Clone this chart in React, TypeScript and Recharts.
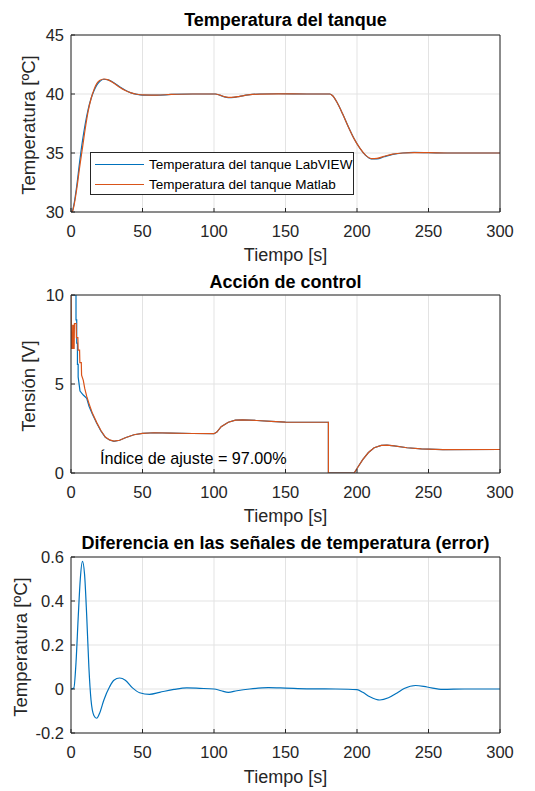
import React from "react";
import { CartesianGrid, Legend, Line, LineChart, XAxis, YAxis } from "recharts";

const FONT = '"Liberation Sans", Arial, Helvetica, sans-serif';
const AXIS = "#262626";
const GRID = "#e3e3e3";
const BLUE = "#0072BD";
const ORANGE = "#D95319";

const timeTicks = [0, 50, 100, 150, 200, 250, 300];
const tempTicks = [30, 35, 40, 45];
const voltTicks = [0, 5, 10];
const errTicks = [-0.2, 0, 0.2, 0.4, 0.6];

// temperatura del tanque
const tempTime = [0, 1, 2, 4, 6, 8, 10, 12, 14, 16, 18, 20, 23, 26, 30, 34, 38, 42, 46, 50, 60, 70, 85, 101, 104, 107, 110, 114, 118, 124, 132, 145, 165, 181, 183, 186, 190, 194, 198, 202, 206, 210, 214, 219, 225, 232, 240, 250, 265, 300];
const tempLabview = [30, 30.1, 30.6, 32.2, 34.2, 36.0, 37.5, 38.7, 39.6, 40.25, 40.75, 41.05, 41.25, 41.2, 40.95, 40.62, 40.32, 40.1, 39.97, 39.9, 39.9, 39.96, 40.0, 40.0, 39.9, 39.77, 39.7, 39.72, 39.8, 39.92, 40.0, 40.02, 40.0, 40.0, 39.85, 39.3, 38.3, 37.2, 36.2, 35.4, 34.8, 34.5, 34.5, 34.68, 34.88, 35.0, 35.05, 35.03, 35.0, 35.0];
const tempMatlab = [30, 30.05, 30.5, 31.95, 33.75, 35.42, 37.1, 38.55, 39.6, 40.35, 40.88, 41.14, 41.27, 41.2, 40.92, 40.57, 40.29, 40.1, 39.98, 39.92, 39.91, 39.96, 40.0, 40.0, 39.91, 39.78, 39.715, 39.73, 39.805, 39.92, 39.995, 40.015, 40.0, 40.0, 39.85, 39.3, 38.3, 37.2, 36.2, 35.41, 34.82, 34.53, 34.545, 34.72, 34.9, 35.0, 35.035, 35.025, 35.0, 35.0];

// accion de control
const ctrlTimeLab = [0, 3.5, 3.5, 4, 4, 4.5, 4.5, 5, 5, 6.3, 8.6, 11, 12.6, 15, 18, 21, 24, 27, 30, 34, 38, 44, 50, 58, 70, 85, 100, 102, 105, 110, 115, 120, 130, 140, 150, 180, 180, 198, 200, 204, 208, 212, 217, 221, 226, 235, 245, 260, 300];
const ctrlLab = [10, 10, 8.6, 8.6, 7.3, 7.3, 6.1, 6.1, 5.4, 4.6, 4.38, 4.2, 3.75, 3.3, 2.8, 2.35, 2.0, 1.85, 1.78, 1.84, 1.98, 2.15, 2.23, 2.26, 2.24, 2.22, 2.21, 2.3, 2.6, 2.85, 2.97, 2.99, 2.95, 2.9, 2.86, 2.85, 0, 0, 0.25, 0.75, 1.15, 1.42, 1.55, 1.57, 1.52, 1.42, 1.35, 1.31, 1.32];
const ctrlTimeMat = [0, 0.4, 1.0, 1.2, 1.6, 1.8, 2.2, 2.4, 3.6, 3.8, 4.8, 5.0, 6.0, 6.2, 7.2, 7.4, 8.6, 9.6, 11, 12.6, 15, 18, 21, 24, 27, 30, 34, 38, 44, 50, 58, 70, 85, 100, 102, 105, 110, 115, 120, 130, 140, 150, 180, 180, 198, 200, 204, 208, 212, 217, 221, 226, 235, 245, 260, 300];
const ctrlMat = [10, 7.0, 7.0, 8.3, 8.3, 7.0, 7.0, 8.4, 8.4, 7.6, 7.6, 6.9, 6.9, 6.2, 6.2, 5.5, 5.2, 4.75, 4.3, 3.9, 3.35, 2.83, 2.37, 2.02, 1.86, 1.79, 1.84, 1.98, 2.15, 2.23, 2.26, 2.24, 2.22, 2.21, 2.3, 2.6, 2.85, 2.97, 2.99, 2.95, 2.9, 2.86, 2.85, 0, 0, 0.25, 0.75, 1.15, 1.42, 1.55, 1.57, 1.52, 1.42, 1.35, 1.31, 1.32];

// diferencia (error)
const errTime = [0, 2, 3.5, 5, 6.5, 8, 9.5, 11, 12.5, 14, 16, 18, 20, 23, 27, 30, 34, 38, 43, 48, 55, 62, 72, 81, 90, 100, 105, 110, 116, 125, 138, 150, 165, 185, 200, 204, 209, 216, 222, 228, 233, 241, 249, 260, 275, 300];
const errValues = [0, 0.005, 0.12, 0.32, 0.5, 0.58, 0.52, 0.33, 0.1, -0.05, -0.12, -0.133, -0.11, -0.05, 0.01, 0.04, 0.05, 0.04, 0.005, -0.017, -0.024, -0.015, -0.002, 0.005, 0.003, 0, -0.008, -0.015, -0.008, 0, 0.006, 0.004, 0.001, 0, -0.003, -0.015, -0.035, -0.05, -0.04, -0.018, 0.002, 0.016, 0.009, -0.002, 0, 0];

const pts = (ts: number[], vs: number[]) => ts.map((t, i) => ({ t, v: vs[i] }));

const PLOT_L = 71;
const PLOT_R = 500;
const W = 535;
const TICK_FONT = 16.5;
const LABEL_FONT = 18;

function LegendBox(props: any) {
  const items = props.payload || [];
  return (
    <div style={{ boxSizing: "border-box", width: 264, height: 43, border: `1px solid ${AXIS}`, background: "#fff", paddingTop: 1, fontSize: 13.5, color: "#000", fontFamily: FONT }}>
      {items.map((p: any) => (
        <div key={p.value} style={{ display: "flex", alignItems: "center", height: 20.5, whiteSpace: "nowrap" }}>
          <span style={{ display: "inline-block", width: 49, borderTop: `1.5px solid ${p.color}`, margin: "0 5px 0 4px" }} />
          <span>{p.value}</span>
        </div>
      ))}
    </div>
  );
}

// axes take 1px each side (recharts skips axes of zero size)
function Panel({ top, height, plotTop, plotBottom, domain, ticks, children }: any) {
  return (
    <div style={{ position: "absolute", left: 0, top, width: W, height }}>
      <LineChart width={W} height={height} margin={{ top: plotTop - 1, right: W - PLOT_R - 1, bottom: height - plotBottom - 1, left: PLOT_L - 1 }}>
        <CartesianGrid stroke={GRID} />
        <XAxis dataKey="t" type="number" domain={[0, 300]} ticks={timeTicks} interval={0} allowDataOverflow height={1} tickSize={-4} tickMargin={17.5} stroke={AXIS} tick={{ fontSize: TICK_FONT, fill: AXIS }} />
        <XAxis xAxisId="top" orientation="top" dataKey="t" type="number" domain={[0, 300]} ticks={timeTicks} interval={0} allowDataOverflow height={1} tickSize={-4} tick={false} stroke={AXIS} />
        <YAxis type="number" domain={domain} ticks={ticks} interval={0} allowDataOverflow width={1} tickSize={-4} tickMargin={11} stroke={AXIS} tick={{ fontSize: TICK_FONT, fill: AXIS }} />
        <YAxis yAxisId="right" orientation="right" type="number" domain={domain} ticks={ticks} interval={0} allowDataOverflow width={1} tickSize={-4} tick={false} stroke={AXIS} />
        {children}
      </LineChart>
    </div>
  );
}

const txt = (left: number, top: number, width: number, size: number, bold: boolean, align: any = "center"): React.CSSProperties => ({
  position: "absolute", left, top, width, fontSize: size, lineHeight: "20px", fontWeight: bold ? "bold" : "normal",
  textAlign: align, whiteSpace: "nowrap", color: bold ? "#000" : AXIS,
});

function YLabel({ text, cx, cy }: { text: string; cx: number; cy: number }) {
  const w = 220;
  return (
    <div style={{ ...txt(cx - w / 2, cy - 10, w, 18.5, false), transform: "rotate(-90deg)", transformOrigin: "50% 50%" }}>{text}</div>
  );
}

export default function App() {
  const plotW = PLOT_R - PLOT_L;
  return (
    <div style={{ position: "absolute", left: 0, top: 0, width: W, height: 791, background: "#fff", fontFamily: FONT, overflow: "hidden" }}>
      <Panel top={0} height={260} plotTop={35} plotBottom={212} domain={[30, 45]} ticks={tempTicks}>
        <Line data={pts(tempTime, tempLabview)} dataKey="v" name="Temperatura del tanque LabVIEW" type="monotone" stroke={BLUE} strokeWidth={1.2} dot={false} isAnimationActive={false} />
        <Line data={pts(tempTime, tempMatlab)} dataKey="v" name="Temperatura del tanque Matlab" type="monotone" stroke={ORANGE} strokeWidth={1.2} dot={false} isAnimationActive={false} />
        <Legend layout="vertical" align="center" verticalAlign="middle" content={LegendBox} wrapperStyle={{ left: 90, top: 152, width: 264, height: 43 }} />
      </Panel>
      <Panel top={260} height={260} plotTop={35} plotBottom={213} domain={[0, 10]} ticks={voltTicks}>
        <Line data={pts(ctrlTimeLab, ctrlLab)} dataKey="v" name="LabVIEW" type="linear" stroke={BLUE} strokeWidth={1.2} dot={false} isAnimationActive={false} />
        <Line data={pts(ctrlTimeMat, ctrlMat)} dataKey="v" name="Matlab" type="linear" stroke={ORANGE} strokeWidth={1.2} dot={false} isAnimationActive={false} />
      </Panel>
      <Panel top={520} height={271} plotTop={37} plotBottom={213} domain={[-0.2, 0.6]} ticks={errTicks}>
        <Line data={pts(errTime, errValues)} dataKey="v" name="Error" type="monotone" stroke={BLUE} strokeWidth={1.2} dot={false} isAnimationActive={false} />
      </Panel>

      <div style={txt(PLOT_L, 10.3, plotW, LABEL_FONT, true)}>Temperatura del tanque</div>
      <div style={txt(PLOT_L, 271.7, plotW, LABEL_FONT, true)}>Acción de control</div>
      <div style={txt(PLOT_L - 40, 533, plotW + 80, LABEL_FONT, true)}>Diferencia en las señales de temperatura (error)</div>

      <div style={txt(PLOT_L, 244.7, plotW, LABEL_FONT, false)}>Tiempo [s]</div>
      <div style={txt(PLOT_L, 505.7, plotW, LABEL_FONT, false)}>Tiempo [s]</div>
      <div style={txt(PLOT_L, 767, plotW, LABEL_FONT, false)}>Tiempo [s]</div>

      <YLabel text="Temperatura [ºC]" cx={29} cy={125} />
      <YLabel text="Tensión [V]" cx={29} cy={386} />
      <YLabel text="Temperatura [ºC]" cx={21} cy={647} />

      <div style={{ ...txt(100, 448, 260, 16.2, false, "left"), color: "#000" }}>Índice de ajuste = 97.00%</div>
    </div>
  );
}
